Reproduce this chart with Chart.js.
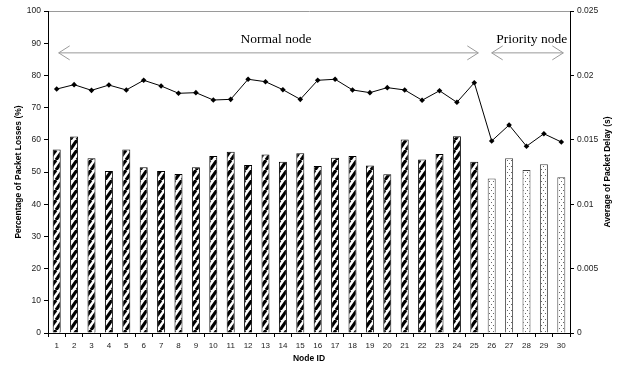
<!DOCTYPE html>
<html><head><meta charset="utf-8">
<script src="https://cdn.jsdelivr.net/npm/chart.js@4.4.1/dist/chart.umd.min.js"></script>
<style>html,body{margin:0;padding:0;background:#fff}canvas{display:block}</style>
</head><body>
<canvas id="c" width="617" height="366"></canvas>
<script>
const nodeIds = ['1','2','3','4','5','6','7','8','9','10','11','12','13','14','15','16','17','18','19','20','21','22','23','24','25','26','27','28','29','30'];
const packetLoss = [57.0,61.0,54.3,50.3,57.0,51.5,50.3,49.4,51.5,55.0,56.3,52.2,55.4,53.2,55.8,51.9,54.4,55.0,52.0,49.3,60.1,53.9,55.6,61.1,53.2,48.0,54.3,50.6,52.4,48.4];
const packetDelay = [0.01894,0.01928,0.01884,0.01925,0.01887,0.01962,0.01918,0.01861,0.01866,0.01809,0.01814,0.01970,0.01951,0.01889,0.01814,0.01962,0.01970,0.01887,0.01866,0.01905,0.01887,0.01807,0.01881,0.01791,0.01943,0.01491,0.01615,0.01450,0.01547,0.01483];
const nodeType = ['n','n','n','n','n','n','n','n','n','n','n','n','n','n','n','n','n','n','n','n','n','n','n','n','n','p','p','p','p','p'];
const delayTickLabels = ['0','0.005','0.01','0.015','0.02','0.025'];
const groupLabels = ['Normal node','Priority node'];

function stripePattern(){
  const w=7,h=10,c=document.createElement('canvas');c.width=w;c.height=h;
  const x=c.getContext('2d');x.fillStyle='#fff';x.fillRect(0,0,w,h);
  x.strokeStyle='#000';x.lineWidth=3.2;x.lineCap='butt';
  for(const dx of [-w,0,w]){x.beginPath();x.moveTo(dx,h);x.lineTo(dx+w,0);x.stroke();}
  return x.createPattern(c,'repeat');
}
function dotPattern(){
  const w=4,h=6,c=document.createElement('canvas');c.width=w;c.height=h;
  const x=c.getContext('2d');x.fillStyle='#fff';x.fillRect(0,0,w,h);
  x.fillStyle='#666';x.fillRect(1,1,1,1);x.fillRect(3,4,1,1);
  return x.createPattern(c,'repeat');
}
const stripes=stripePattern(), dots=dotPattern();
const sans="'Liberation Sans', Arial, sans-serif";

const annot={
  id:'annot',
  afterDraw(chart){
    const ctx=chart.ctx,x=chart.scales.x,y=chart.scales.y,y2=chart.scales.y2;
    const ay=y.getPixelForValue(87);
    ctx.save();
    ctx.strokeStyle='#9a9a9a';ctx.lineWidth=1;
    const arrow=(x1,x2)=>{
      ctx.beginPath();ctx.moveTo(x1,ay);ctx.lineTo(x2,ay);ctx.stroke();
      ctx.beginPath();ctx.moveTo(x1+11,ay-7);ctx.lineTo(x1,ay);ctx.lineTo(x1+11,ay+7);ctx.stroke();
      ctx.beginPath();ctx.moveTo(x2-11,ay-7);ctx.lineTo(x2,ay);ctx.lineTo(x2-11,ay+7);ctx.stroke();
    };
    arrow(x.getPixelForValue(0)+2,x.getPixelForValue(24)+4);
    arrow(x.getPixelForValue(25),x.getPixelForValue(29)+2);
    ctx.fillStyle='#000';ctx.font="13.5px 'Liberation Serif', 'Times New Roman', serif";
    ctx.textAlign='center';ctx.textBaseline='middle';
    const ty=y.getPixelForValue(91.3);
    ctx.fillText(groupLabels[0],x.getPixelForValue(12.6),ty);
    ctx.fillText(groupLabels[1],x.getPixelForValue(27.3),ty);
    ctx.font="bold 8.5px "+sans;
    ctx.translate(y2.right-9,(chart.chartArea.top+chart.chartArea.bottom)/2);
    ctx.rotate(-Math.PI/2);
    ctx.fillText('Average of Packet Delay (s)',0,0);
    ctx.restore();
  }
};

new Chart(document.getElementById('c'),{
  data:{
    labels:nodeIds,
    datasets:[
      {type:'line',label:'Average of Packet Delay',data:packetDelay,yAxisID:'y2',order:0,
        borderColor:'#000',borderWidth:1,pointStyle:'rectRot',pointRadius:2.8,
        pointBackgroundColor:'#000',pointBorderColor:'#000',pointBorderWidth:0,tension:0},
      {type:'bar',label:'Percentage of Packet Losses',data:packetLoss,yAxisID:'y',order:1,
        backgroundColor:nodeType.map(t=>t==='n'?stripes:dots),
        borderColor:nodeType.map(t=>t==='n'?'#000':'#444'),borderWidth:1,
        barPercentage:0.46,categoryPercentage:1}
    ]
  },
  options:{
    responsive:false,animation:false,devicePixelRatio:1,
    layout:{padding:{top:11,left:0,right:0,bottom:0}},
    plugins:{legend:{display:false},tooltip:{enabled:false}},
    scales:{
      x:{
        offset:true,
        afterFit(s){s.height=33;},
        grid:{display:true,drawOnChartArea:false,drawTicks:true,tickLength:4,tickColor:'#000',offset:true},
        border:{display:true,color:'#000',width:1},
        ticks:{color:'#222',font:{family:sans,size:8},padding:4,maxRotation:0,autoSkip:false},
        title:{display:true,text:'Node ID',color:'#000',font:{family:sans,size:8.5,weight:'bold'},padding:{top:0,bottom:2}}
      },
      y:{
        position:'left',min:0,max:100,
        afterFit(s){s.width=48;},
        grid:{drawOnChartArea:true,color:c=>c.tick&&c.tick.value===100?'#9a9a9a':'rgba(0,0,0,0)',tickColor:'#000',tickLength:4,lineWidth:1},
        border:{display:true,color:'#000',width:1},
        ticks:{stepSize:10,color:'#222',font:{family:sans,size:8.5},padding:3},
        title:{display:true,text:'Percentage of Packet Losses (%)',color:'#000',font:{family:sans,size:8.5,weight:'bold'},padding:{top:14,bottom:0}}
      },
      y2:{
        position:'right',min:0,max:0.025,
        afterFit(s){s.width=47;},
        grid:{drawOnChartArea:false,tickColor:'#000',tickLength:4},
        border:{display:true,color:'#000',width:1},
        ticks:{stepSize:0.005,color:'#222',font:{family:sans,size:8.5},padding:3,
          callback:(v,i)=>delayTickLabels[i]}
      }
    }
  },
  plugins:[annot]
});
</script>
</body></html>
